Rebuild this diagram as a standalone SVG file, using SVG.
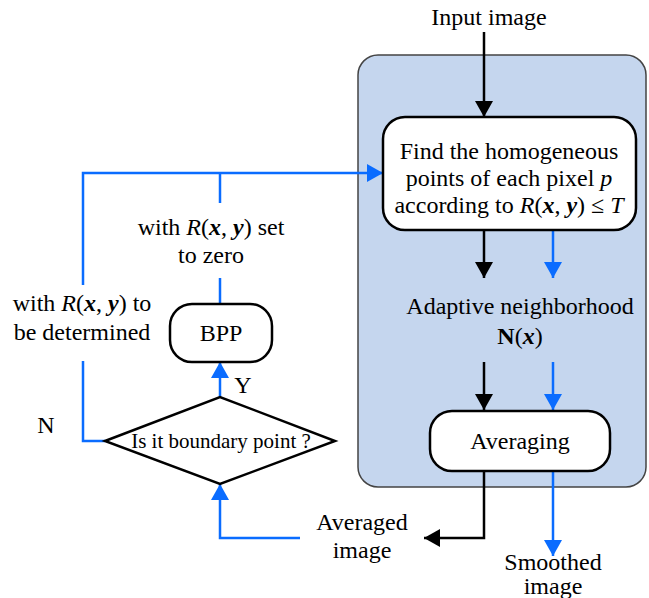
<svg xmlns="http://www.w3.org/2000/svg" width="649" height="598" viewBox="0 0 649 598">
<style>
text{font-family:'Liberation Serif';font-size:24px;fill:#000;text-anchor:middle}
.box{fill:#fff;stroke:#000;stroke-width:2.5}
.k{fill:none;stroke:#000;stroke-width:2.5}
.b{fill:none;stroke:#0a6cff;stroke-width:2.5}
</style>
<defs>
<marker id="ak" markerWidth="16" markerHeight="18" viewBox="0 0 16 18" refX="16" refY="9" orient="auto" markerUnits="userSpaceOnUse"><path d="M0,0L16,9L0,18Z" fill="#000"/></marker>
<marker id="ab" markerWidth="16" markerHeight="18" viewBox="0 0 16 18" refX="16" refY="9" orient="auto" markerUnits="userSpaceOnUse"><path d="M0,0L16,9L0,18Z" fill="#0a6cff"/></marker>
</defs>
<rect id="panel" x="358" y="55" width="288" height="432" rx="20" fill="#c5d6ee" stroke="#444" stroke-width="1.5"/>
<g id="connectors">
<path class="k" d="M484,32V117" marker-end="url(#ak)"/>
<path class="k" d="M484,230V278" marker-end="url(#ak)"/>
<path class="b" d="M553,230V278" marker-end="url(#ab)"/>
<path class="k" d="M484,362V410" marker-end="url(#ak)"/>
<path class="b" d="M553,362V410" marker-end="url(#ab)"/>
<path class="k" d="M484,471V538H424" marker-end="url(#ak)"/>
<path class="b" d="M553,471V556" marker-end="url(#ab)"/>
<path class="b" d="M300,538H220V484" marker-end="url(#ab)"/>
<path class="b" d="M220,397V362" marker-end="url(#ab)"/>
<path class="b" d="M105,441H83V361"/>
<path class="b" d="M83,285V173H383" marker-end="url(#ab)"/>
<path class="b" d="M220,173V203"/>
<path class="b" d="M220,278V304"/>
</g>
<g id="input"><text x="489" y="25">Input image</text></g>
<g id="find">
<rect class="box" x="383" y="117" width="253" height="113" rx="22"/>
<text x="509" y="159">Find the homogeneous</text>
<text x="509" y="186">points of each pixel <tspan font-style="italic">p</tspan></text>
<text x="509" y="213">according to <tspan font-style="italic">R</tspan>(<tspan font-style="italic" font-weight="bold">x</tspan>, <tspan font-style="italic" font-weight="bold">y</tspan>) ≤ <tspan font-style="italic">T</tspan></text>
</g>
<g id="neigh">
<text x="520" y="314">Adaptive neighborhood</text>
<text x="520" y="344"><tspan font-weight="bold">N</tspan>(<tspan font-style="italic" font-weight="bold">x</tspan>)</text>
</g>
<g id="averaging">
<rect class="box" x="430" y="411" width="180" height="60" rx="22"/>
<text x="520" y="449">Averaging</text>
</g>
<g id="averaged"><text x="362" y="530">Averaged</text><text x="362" y="558">image</text></g>
<g id="smoothed"><text x="553" y="570">Smoothed</text><text x="553" y="594">image</text></g>
<g id="decision">
<path class="box" d="M105,441L220,397L335,441L220,484Z"/>
<text x="221" y="448" style="font-size:21px">Is it boundary point ?</text>
</g>
<g id="bpp">
<rect class="box" x="170" y="304" width="102" height="58" rx="22"/>
<text x="221" y="341">BPP</text>
</g>
<g id="labels">
<text x="211" y="235">with <tspan font-style="italic">R</tspan>(<tspan font-style="italic" font-weight="bold">x</tspan>, <tspan font-style="italic" font-weight="bold">y</tspan>) set</text>
<text x="211" y="263">to zero</text>
<text x="82" y="311">with <tspan font-style="italic">R</tspan>(<tspan font-style="italic" font-weight="bold">x</tspan>, <tspan font-style="italic" font-weight="bold">y</tspan>) to</text>
<text x="82" y="340">be determined</text>
<text x="46" y="433">N</text>
<text x="243" y="393">Y</text>
</g>
</svg>
